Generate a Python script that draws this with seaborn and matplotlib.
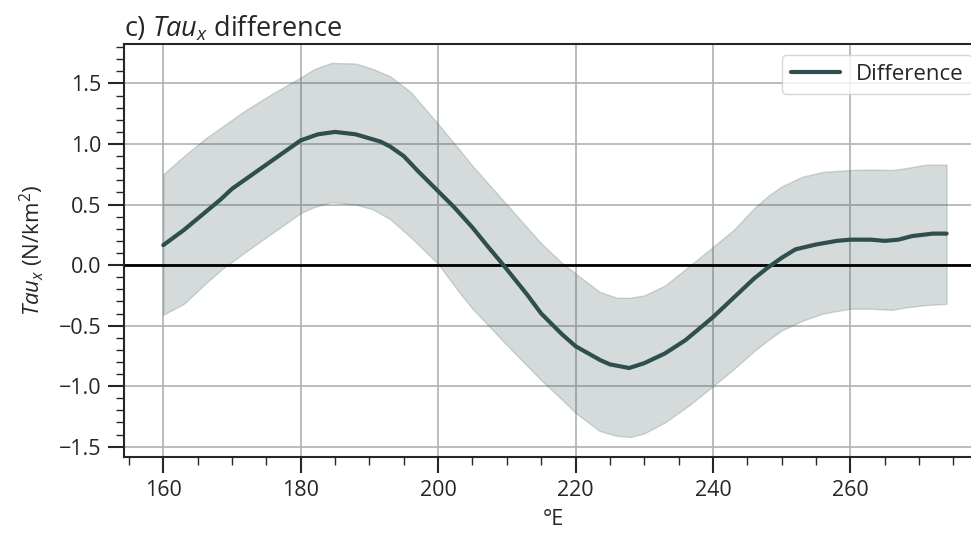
import numpy as np
import pandas as pd
import matplotlib
matplotlib.use("Agg")
import matplotlib.pyplot as plt
import seaborn as sns
from matplotlib.ticker import MultipleLocator

lon_mean = [160, 163, 168.3, 170, 175, 180, 182.5, 185, 188, 191.6, 193, 195, 197, 200, 202.3, 205,
            207, 209.5, 212.9, 215, 218, 220, 223.6, 225, 227.8, 230, 233, 236, 240, 243, 246, 248,
            250, 252, 255, 258, 260, 263, 265, 267, 269, 272, 274]
diff_mean = [0.165, 0.29, 0.54, 0.63, 0.83, 1.03, 1.08, 1.10, 1.08, 1.02, 0.98, 0.90, 0.78, 0.61, 0.48,
             0.31, 0.17, 0.0, -0.24, -0.40, -0.57, -0.67, -0.785, -0.82, -0.85, -0.81, -0.73, -0.62,
             -0.43, -0.27, -0.11, -0.02, 0.06, 0.13, 0.17, 0.20, 0.21, 0.21, 0.20, 0.21, 0.24, 0.26,
             0.26]

lon_band = [160, 163, 166, 168.5, 172, 176, 180, 182, 184.5, 188, 190.5, 193, 196, 200, 203, 205,
            210, 215, 218, 220, 223.5, 226, 228, 230, 233, 236.5, 240, 243, 246, 248, 250, 253, 256,
            260, 263, 266, 268, 271, 274]
band_upper = [0.75, 0.90, 1.04, 1.14, 1.28, 1.42, 1.55, 1.62, 1.67, 1.665, 1.62, 1.56, 1.43, 1.165,
              0.96, 0.82, 0.50, 0.18, 0.02, -0.07, -0.22, -0.27, -0.27, -0.25, -0.17, -0.01, 0.15,
              0.29, 0.47, 0.57, 0.65, 0.73, 0.77, 0.785, 0.79, 0.785, 0.80, 0.83, 0.83]
band_lower = [-0.41, -0.32, -0.16, -0.035, 0.11, 0.27, 0.43, 0.48, 0.52, 0.50, 0.46, 0.38, 0.23, 0.01,
              -0.22, -0.36, -0.66, -0.95, -1.11, -1.22, -1.37, -1.41, -1.42, -1.39, -1.30, -1.16,
              -1.0, -0.86, -0.71, -0.62, -0.54, -0.46, -0.40, -0.36, -0.36, -0.37, -0.35, -0.33, -0.32]

sns.set_style("ticks")
plt.rcParams['font.family'] = ['Open Sans', 'DejaVu Sans']
plt.rcParams['mathtext.fontset'] = 'custom'
plt.rcParams['mathtext.it'] = 'Open Sans:italic'
plt.rcParams['mathtext.rm'] = 'Open Sans'

color = "#2f4f4f"
fig = plt.figure(figsize=(9.71, 5.33), dpi=100)
ax = fig.add_axes([124/971, 1 - 457/533, (983 - 124)/971, (457 - 44)/533])

df = pd.DataFrame({"lon": lon_mean, "diff": diff_mean})
ax.fill_between(lon_band, band_lower, band_upper, color=color, alpha=0.2, lw=1, zorder=1)
sns.lineplot(data=df, x="lon", y="diff", ax=ax, color=color, lw=3, label="Difference", zorder=3)
ax.axhline(0, color="black", lw=2, zorder=2)

ax.set_xlim(154.28, 279.3)
ax.set_ylim(-1.585, 1.826)
ax.xaxis.set_major_locator(MultipleLocator(20))
ax.xaxis.set_minor_locator(MultipleLocator(5))
ax.yaxis.set_major_locator(MultipleLocator(0.5))
ax.yaxis.set_minor_locator(MultipleLocator(0.1))
ax.grid(True, which="major", color="#b0b0b0", lw=1.2, zorder=0)
ax.set_axisbelow(True)
ax.tick_params(which="major", length=11.5, width=1.5, labelsize=15.5, direction="out", pad=5)
ax.tick_params(which="minor", length=5.5, width=1)
for s in ["left", "bottom", "top", "right"]:
    ax.spines[s].set_linewidth(1.5)

ax.set_xlabel("°E", fontsize=15.5, labelpad=6)
ax.set_ylabel("$Tau_x$ (N/km$^2$)", fontsize=16, labelpad=9)
ax.set_title("c) $Tau_x$ difference", loc="left", fontsize=19.5, pad=4)
leg = ax.legend(loc="upper right", fontsize=16, handlelength=2.2, handletextpad=0.7,
                framealpha=0.8)

fig.savefig("out.png", dpi=100)
